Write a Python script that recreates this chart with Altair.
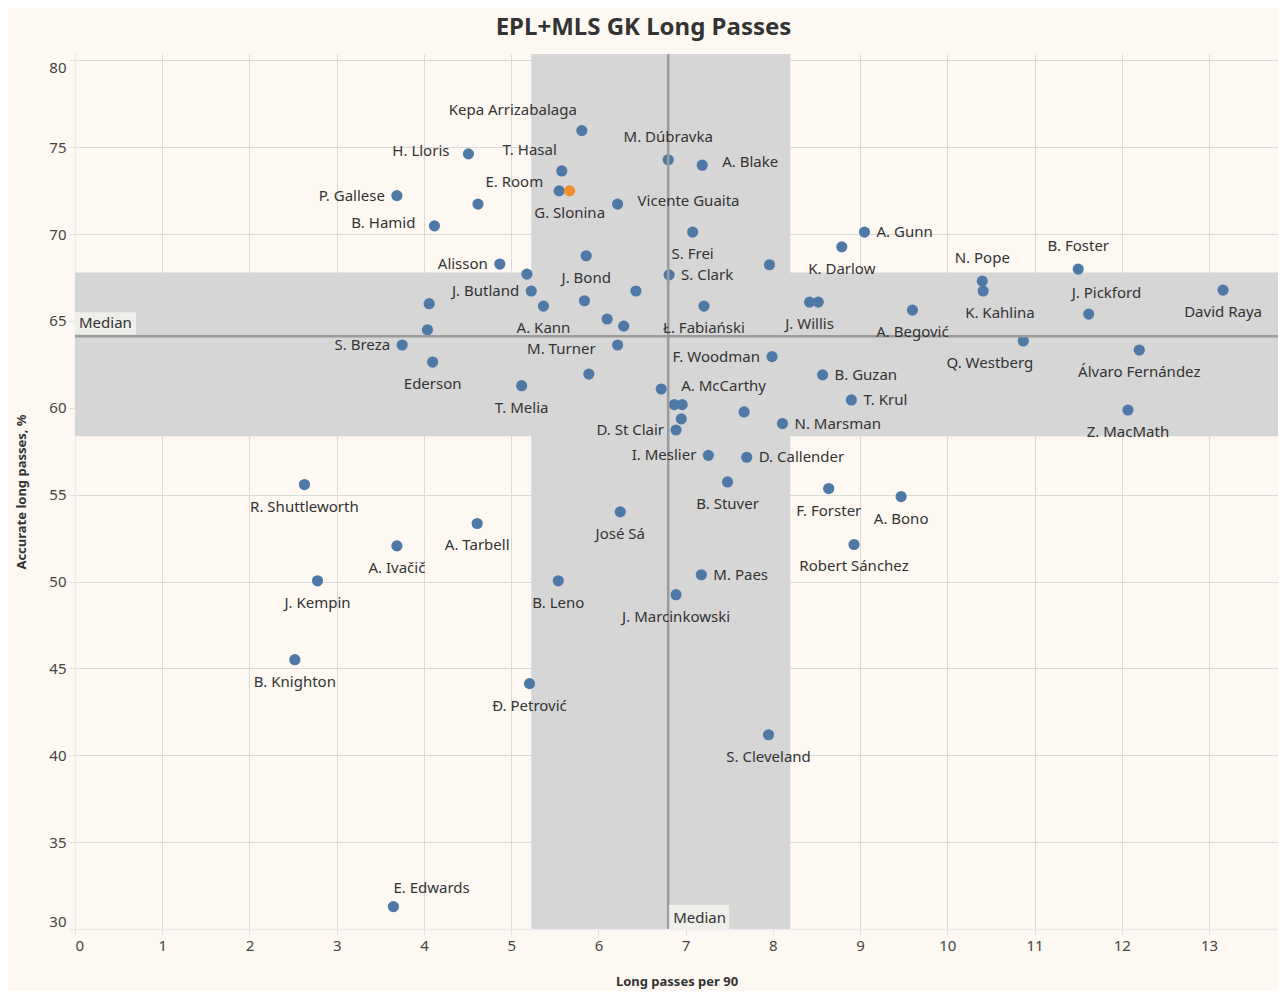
import altair as alt
import pandas as pd

# ---------------- data ----------------
players = [
    "Kepa Arrizabalaga", "M. Dúbravka", "A. Blake", "H. Lloris", "T. Hasal",
    "E. Room", "G. Slonina", "P. Gallese", "", "B. Hamid",
    "Vicente Guaita", "S. Frei", "J. Bond", "Alisson", "",
    "J. Butland", "A. Kann", "", "", "S. Breza",
    "Ederson", "", "", "", "Ł. Fabiański",
    "", "S. Clark", "", "K. Darlow", "M. Turner",
    "", "T. Melia", "A. McCarthy", "", "",
    "", "D. St Clair", "F. Woodman", "", "N. Marsman",
    "I. Meslier", "D. Callender", "B. Stuver", "F. Forster", "A. Bono",
    "Robert Sánchez", "José Sá", "M. Paes", "J. Marcinkowski", "T. Krul",
    "B. Guzan", "A. Gunn", "J. Willis", "", "A. Begović",
    "N. Pope", "K. Kahlina", "Q. Westberg", "B. Foster", "J. Pickford",
    "David Raya", "Álvaro Fernández", "Z. MacMath", "R. Shuttleworth", "A. Tarbell",
    "A. Ivačič", "J. Kempin", "B. Leno", "B. Knighton", "Đ. Petrović",
    "S. Cleveland", "E. Edwards",
]
long_passes_per90 = [
    5.81, 6.80, 7.19, 4.51, 5.58,
    5.55, 5.67, 3.69, 4.62, 4.12,
    6.22, 7.08, 5.86, 4.87, 5.18,
    5.23, 5.37, 4.06, 4.04, 3.75,
    4.10, 5.84, 6.10, 6.29, 7.21,
    6.43, 6.81, 7.96, 8.79, 6.22,
    5.89, 5.12, 6.72, 6.87, 6.96,
    6.95, 6.89, 7.99, 7.67, 8.11,
    7.26, 7.70, 7.48, 8.64, 9.47,
    8.93, 6.25, 7.18, 6.89, 8.90,
    8.57, 9.05, 8.42, 8.52, 9.60,
    10.40, 10.41, 10.87, 11.50, 11.62,
    13.16, 12.20, 12.07, 2.63, 4.61,
    3.69, 2.78, 5.54, 2.52, 5.21,
    7.95, 3.65,
]
accurate_pct = [
    75.95, 74.27, 73.96, 74.61, 73.63,
    72.48, 72.48, 72.21, 71.72, 70.47,
    71.72, 70.11, 68.75, 68.27, 67.69,
    66.72, 65.85, 65.99, 64.49, 63.61,
    62.63, 66.16, 65.11, 64.70, 65.85,
    66.72, 67.65, 68.23, 69.26, 63.61,
    61.94, 61.27, 61.08, 60.18, 60.18,
    59.36, 58.72, 62.94, 59.76, 59.09,
    57.26, 57.15, 55.73, 55.35, 54.89,
    52.13, 54.01, 50.39, 49.24, 60.45,
    61.89, 70.11, 66.08, 66.08, 65.62,
    67.29, 66.72, 63.84, 67.98, 65.39,
    66.77, 63.32, 59.87, 55.58, 53.34,
    52.05, 50.04, 50.04, 45.50, 44.12,
    41.18, 31.29,
]
# label placement code for each point ("" = no label)
label_side = [
    "tl", "t", "R", "L", "tl",
    "Lu", "b", "l", "", "L",
    "R", "b", "b", "l", "",
    "l", "b", "", "", "l",
    "b", "", "", "", "b",
    "", "r", "", "b", "Ld",
    "", "b", "R", "", "",
    "", "l", "l", "", "r",
    "l", "r", "b", "b", "b",
    "b", "b", "r", "b", "r",
    "r", "r", "b", "", "b",
    "t", "br", "bl", "t", "tr",
    "b", "b", "b", "b", "b",
    "b", "b", "b", "b", "b",
    "b", "te",
]
highlighted = ["G. Slonina"]

median_x = 6.80
median_y = 64.11
band_x = [5.23, 8.20]
band_y = [58.36, 67.79]

x_domain = [0, 13.79]
y_domain = [30.0, 80.36]
x_ticks = list(range(0, 14))
y_ticks = list(range(30, 81, 5))

# ---------------- styles ----------------
BG = "#fdf9f2"
BLUE = "#4e79a7"
ORANGE = "#f28e2b"
BAND = "#d6d6d6"
MEDIAN = "#9b9b9b"
FONT = "Noto Sans"

df = pd.DataFrame({
    "player": players,
    "x": long_passes_per90,
    "y": accurate_pct,
    "side": label_side,
})
df["hl"] = df["player"].isin(highlighted)

ref = pd.DataFrame({
    "mx": [median_x], "my": [median_y],
    "xlo": [band_x[0]], "xhi": [band_x[1]],
    "ylo": [band_y[0]], "yhi": [band_y[1]],
    "x0": [x_domain[0]], "y0": [y_domain[0]],
    "txt": ["Median"],
})

XS = alt.Scale(domain=x_domain, nice=False, zero=False)
YS = alt.Scale(domain=y_domain, nice=False, zero=False)
XA = alt.Axis(values=x_ticks, title="Long passes per 90", labelFlush=True,
              titlePadding=22, format="d")
YA = alt.Axis(values=y_ticks, title="Accurate long passes, %", labelFlush=10,
              titlePadding=20, format="d")


def X(f):
    return alt.X(f, type="quantitative", scale=XS, axis=XA)


def Y(f):
    return alt.Y(f, type="quantitative", scale=YS, axis=YA)


base_ref = alt.Chart(ref)

band_v = base_ref.mark_rect(color=BAND).encode(x=X("xlo"), x2="xhi")
band_h = base_ref.mark_rect(color=BAND).encode(y=Y("ylo"), y2="yhi")

points = alt.Chart(df).mark_circle(size=125, opacity=1).encode(
    x=X("x"), y=Y("y"),
    color=alt.condition("datum.hl", alt.value(ORANGE), alt.value(BLUE)),
)

rule_v = base_ref.mark_rule(color=MEDIAN, strokeWidth=2.5).encode(x=X("mx"))
rule_h = base_ref.mark_rule(color=MEDIAN, strokeWidth=2.5).encode(y=Y("my"))

sides = {
    "b": ("center", 0, 22),
    "t": ("center", 0, -23),
    "l": ("right", -12, 0),
    "L": ("right", -19, -3),
    "Lu": ("right", -16, -9),
    "Ld": ("right", -22, 4),
    "r": ("left", 12, 0),
    "R": ("left", 20, -3),
    "tl": ("right", -5, -21),
    "tr": ("left", -17, -21),
    "te": ("left", 0, -19),
    "bl": ("right", 10, 22),
    "br": ("left", -18, 22),
}
text_layers = []
for code, (align, dx, dy) in sides.items():
    text_layers.append(
        alt.Chart(df).transform_filter(alt.datum.side == code)
        .mark_text(align=align, baseline="middle", dx=dx, dy=dy,
                   font=FONT, fontSize=15, color="#333333")
        .encode(x=X("x"), y=Y("y"), text="player:N")
    )

box_h = base_ref.mark_rect(color="#eeeeeb", width=61, height=22,
                           xOffset=30.5, yOffset=-13).encode(x=X("x0"), y=Y("my"))
txt_h = base_ref.mark_text(align="left", baseline="middle", dx=4, dy=-13,
                           font=FONT, fontSize=15, color="#333333").encode(
    x=X("x0"), y=Y("my"), text="txt:N")
box_v = base_ref.mark_rect(color="#eeeeeb", width=60, height=24,
                           xOffset=31, yOffset=-12).encode(x=X("mx"), y=Y("y0"))
txt_v = base_ref.mark_text(align="left", baseline="middle", dx=5, dy=-11,
                           font=FONT, fontSize=15, color="#333333").encode(
    x=X("mx"), y=Y("y0"), text="txt:N")

chart = alt.layer(
    band_v, band_h, points, rule_v, rule_h, *text_layers, box_h, txt_h, box_v, txt_v
).properties(
    width=1203,
    height=875,
    autosize=alt.AutoSizeParams(type="none"),
    padding={"left": 67, "top": 46, "right": 0, "bottom": 62},
    title=alt.TitleParams(
        "EPL+MLS GK Long Passes", font=FONT, fontSize=24, fontWeight="bold",
        color="#333333", anchor="middle", offset=13, dx=-33,
    ),
).configure(
    background=BG,
).configure_view(
    stroke=None,
).configure_axis(
    gridColor="#dadada", gridWidth=1,
    domainColor="#ececec", domainWidth=1.5,
    tickColor="#e0e0e0", tickSize=6,
    labelFont=FONT, labelFontSize=15, labelColor="#444444", labelPadding=3,
    titleFont=FONT, titleFontSize=13, titleFontWeight="bold", titleColor="#333333",
)

chart.save("out.html", embed_options={"renderer": "svg", "actions": False})
